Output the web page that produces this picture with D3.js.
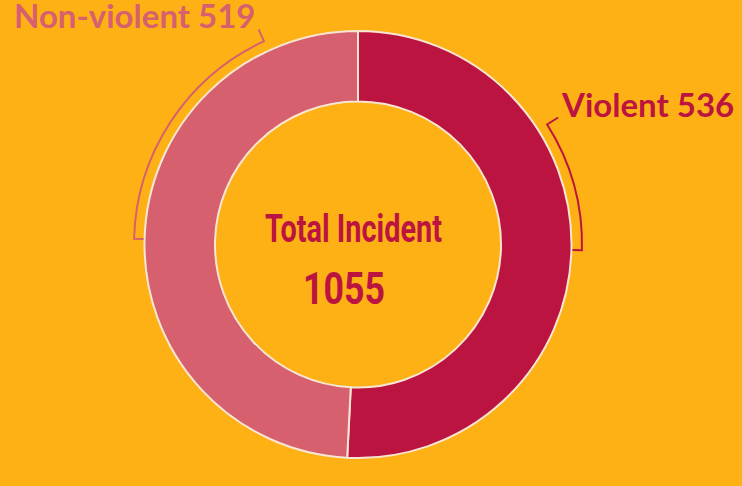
<!DOCTYPE html>
<html>
<head>
<meta charset="utf-8">
<script src="https://cdn.jsdelivr.net/npm/d3@7"></script>
<style>
  html, body { margin: 0; padding: 0; background: #FEB115; }
  svg { display: block; }
</style>
</head>
<body>
<div id="donut"></div>
<script>
// data
const categories = ["Violent", "Non-violent"]
const values = [536, 519]
const colors = ["#BC1440", "#D6606E"]
const centerTitle = "Total Incident"

const width = 742, height = 486
const cx = 358, cy = 244.5
const outerR = 213.5, innerR = 143
const bracketR = 224

const svg = d3.select("#donut")
    .append("svg")
    .attr("width", width)
    .attr("height", height)

svg.append("rect")
    .attr("width", width)
    .attr("height", height)
    .attr("fill", "#FEB115")

const g = svg.append("g")
    .attr("transform", `translate(${cx},${cy})`)

const pie = d3.pie().sort(null).value(d => d.value)
const data = pie(categories.map((c, i) => ({name: c, value: values[i], color: colors[i]})))

const arc = d3.arc().innerRadius(innerR).outerRadius(outerR)

g.selectAll("path.slice")
    .data(data)
    .join("path")
    .attr("class", "slice")
    .attr("d", arc)
    .attr("fill", d => d.data.color)
    .attr("stroke", "#F8E6D2")
    .attr("stroke-width", 2)

// bracket arcs from slice midpoint toward the label
const bracketEnd = {"Violent": 57.6, "Non-violent": 335.2}   // degrees
const rad = a => a * Math.PI / 180
const pt = (a, r) => [r * Math.sin(a), -r * Math.cos(a)]

data.forEach(d => {
    const mid = (d.startAngle + d.endAngle) / 2
    const end = rad(bracketEnd[d.data.name])
    const p = d3.path()
    const tickOut = pt(end, bracketR + 13)
    const start = pt(end, bracketR)
    p.moveTo(tickOut[0], tickOut[1])
    p.lineTo(start[0], start[1])
    const sweepCW = mid > end
    p.arc(0, 0, bracketR, end - Math.PI / 2, mid - Math.PI / 2, !sweepCW)
    const inner = pt(mid, outerR + 1)
    p.lineTo(inner[0], inner[1])
    g.append("path")
        .attr("d", p.toString())
        .attr("fill", "none")
        .attr("stroke", d.data.color)
        .attr("stroke-width", 2)
})

// labels
svg.append("text")
    .attr("x", 562).attr("y", 117)
    .attr("fill", colors[0])
    .style("font-family", "Lato, 'Open Sans', sans-serif")
    .style("font-weight", 700)
    .style("font-size", "33px")
    .text(`${categories[0]} ${values[0]}`)

svg.append("text")
    .attr("x", 14).attr("y", 28)
    .attr("fill", colors[1])
    .style("font-family", "Lato, 'Open Sans', sans-serif")
    .style("font-weight", 700)
    .style("font-size", "33px")
    .text(`${categories[1]} ${values[1]}`)

// center text (condensed look)
svg.append("text")
    .attr("x", 265).attr("y", 242)
    .attr("fill", colors[0])
    .attr("textLength", 177)
    .attr("lengthAdjust", "spacingAndGlyphs")
    .style("font-family", "Roboto, sans-serif")
    .style("font-weight", 700)
    .style("font-size", "38px")
    .text(centerTitle)

svg.append("text")
    .attr("x", 303).attr("y", 304)
    .attr("fill", colors[0])
    .attr("textLength", 82)
    .attr("lengthAdjust", "spacingAndGlyphs")
    .style("font-family", "Roboto, sans-serif")
    .style("font-weight", 700)
    .style("font-size", "45px")
    .text(d3.sum(values))
</script>
</body>
</html>
